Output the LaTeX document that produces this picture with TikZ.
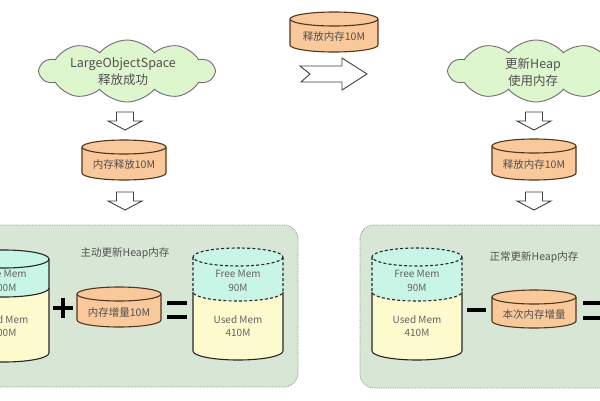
\documentclass[tikz,border=0pt]{standalone}
\usepackage{fontspec}
\setmainfont{Noto Sans CJK SC}
\usetikzlibrary{shapes.symbols}
\definecolor{panelfill}{RGB}{216,231,213}
\definecolor{panelline}{RGB}{140,150,140}
\definecolor{cloudfill}{RGB}{222,246,205}
\definecolor{cloudline}{RGB}{110,110,110}
\definecolor{orangefill}{RGB}{249,200,155}
\definecolor{orangeline}{RGB}{80,55,30}
\definecolor{cyanfill}{RGB}{200,245,230}
\definecolor{yellowfill}{RGB}{253,250,205}
\definecolor{txt}{RGB}{80,80,80}
\definecolor{memtxt}{RGB}{100,100,100}
\tikzset{
  cylline/.style={draw=black!85,line width=1.1pt},
  orangecyl/.style={fill=orangefill,draw=orangeline,line width=1.1pt},
  dashpart/.style={dash pattern=on 3pt off 2.2pt},
  panel/.style={fill=panelfill,draw=panelline,densely dotted,line width=0.8pt,rounded corners=14pt},
  cloudbox/.style={cloud,cloud puffs=10,cloud puff arc=100,aspect=3.0,fill=cloudfill,draw=cloudline,line width=0.9pt,inner sep=0pt},
  cloudtxt/.style={align=center,text=txt,font=\fontsize{12.5}{17}\selectfont},
  cyltxt/.style={text=txt,font=\fontsize{10.5}{13}\selectfont},
  memlbl/.style={align=center,text=memtxt,font=\fontsize{10}{13.5}\selectfont},
  paneltxt/.style={text=txt,font=\fontsize{10.5}{13}\selectfont},
  blockarrow/.style={fill=white,draw=black!75,line width=0.9pt,line join=miter},
  opline/.style={line width=3.6pt,black}
}
% plain cylinder: cx, top, halfwidth, height, ry, style
\newcommand{\plaincyl}[6]{%
  \path[#6] ({#1-#3},{#2+#5}) -- ({#1-#3},{#2+#4-#5})
    arc[start angle=180,end angle=0,x radius=#3,y radius=#5] -- ({#1+#3},{#2+#5})
    arc[start angle=0,end angle=-180,x radius=#3,y radius=#5] -- cycle;
  \path[#6,fill=none] ({#1-#3},{#2+#5}) arc[start angle=180,end angle=0,x radius=#3,y radius=#5];
}
% memory cylinder: cx, top, halfwidth, height, ry, mid y, upper line style
\newcommand{\memcyl}[7]{%
  \fill[yellowfill] ({#1-#3},{#2+#5}) -- ({#1-#3},{#2+#4-#5})
    arc[start angle=180,end angle=0,x radius=#3,y radius=#5] -- ({#1+#3},{#2+#5}) -- cycle;
  \fill[cyanfill] ({#1-#3},{#2+#5}) -- ({#1-#3},#6)
    arc[start angle=180,end angle=0,x radius=#3,y radius=#5] -- ({#1+#3},{#2+#5})
    arc[start angle=0,end angle=-180,x radius=#3,y radius=#5] -- cycle;
  \draw[cylline,#7] ({#1},{#2+#5}) ellipse[x radius=#3,y radius=#5];
  \draw[cylline,#7] ({#1-#3},{#2+#5}) -- ({#1-#3},#6)
    arc[start angle=180,end angle=0,x radius=#3,y radius=#5] -- ({#1+#3},{#2+#5});
  \draw[cylline] ({#1-#3},#6) -- ({#1-#3},{#2+#4-#5})
    arc[start angle=180,end angle=0,x radius=#3,y radius=#5] -- ({#1+#3},#6);
}
% down block arrow: cx, top y
\newcommand{\blockdown}[2]{%
  \draw[blockarrow] ({#1-8.5},#2) -- ({#1+8.5},#2) -- ({#1+8.5},{#2+9}) -- ({#1+17},{#2+9})
    -- (#1,{#2+18}) -- ({#1-17},{#2+9}) -- ({#1-8.5},{#2+9}) -- cycle;
}
\begin{document}
\begin{tikzpicture}[x=1pt,y=-1pt]
\useasboundingbox (0,0) rectangle (600,400);
\clip (0,0) rectangle (600,400);
\fill[white] (0,0) rectangle (600,400);

% ---------- left column ----------
\node[cloudbox,minimum width=174pt,minimum height=62pt] (cloudL) at (127,71) {};
\node[cloudtxt] (cloudLt) at (123,72) {LargeObjectSpace\\释放成功};
\blockdown{125}{112}
\plaincyl{124}{140}{42}{40}{7}{orangecyl}
\node[cyltxt] (relL) at (124,165) {内存释放10M};
\blockdown{125}{192}

% ---------- middle ----------
\plaincyl{334}{12}{44}{40}{7}{orangecyl}
\node[cyltxt] (relM) at (334,37) {释放内存10M};
\draw[blockarrow] (300,66) -- (342,66) -- (342,58) -- (367,74) -- (342,90) -- (342,82) -- (301,82) -- (310,74) -- cycle;

% ---------- right column ----------
\node[cloudbox,minimum width=174pt,minimum height=62pt] (cloudR) at (536,71) {};
\node[cloudtxt] (cloudRt) at (533,72) {更新Heap\\使用内存};
\blockdown{534}{112}
\plaincyl{534}{139}{42}{41}{7}{orangecyl}
\node[cyltxt] (relR) at (534,165) {释放内存10M};
\blockdown{534}{192}

% ---------- left panel ----------
\draw[panel] (-20,225) rectangle (298,387);
\node[paneltxt] (ptL) at (125,253) {主动更新Heap内存};
\memcyl{4}{250}{45}{112}{9}{288}{}
\node[memlbl] (freeA) at (4,281) {Free Mem\\100M};
\node[memlbl] (usedA) at (4,326) {Used Mem\\400M};
\draw[opline,line width=4.2pt] (53,308) -- (73,308);
\draw[opline,line width=4.2pt] (63,298) -- (63,318);
\plaincyl{119}{287}{42}{40}{7}{orangecyl}
\node[cyltxt] (incA) at (119,313) {内存增量10M};
\draw[opline] (167,303) -- (187,303);
\draw[opline] (167,317) -- (187,317);
\memcyl{238}{248}{45}{112}{9}{292}{dashpart}
\node[memlbl] (freeB) at (238,281) {Free Mem\\90M};
\node[memlbl] (usedB) at (238,326) {Used Mem\\410M};

% ---------- right panel ----------
\draw[panel] (360,225) rectangle (640,388);
\node[paneltxt] (ptR) at (534,257) {正常更新Heap内存};
\memcyl{417}{248}{45}{112}{9}{292}{dashpart}
\node[memlbl] (freeC) at (417,281) {Free Mem\\90M};
\node[memlbl] (usedC) at (417,326) {Used Mem\\410M};
\draw[opline,line width=3.2pt] (467,310) -- (486,310);
\plaincyl{534}{290}{42}{38}{7}{orangecyl}
\node[cyltxt] (incC) at (534,315) {本次内存增量};
\draw[opline] (583,303) -- (605,303);
\draw[opline] (583,318) -- (605,318);
\end{tikzpicture}
\end{document}
